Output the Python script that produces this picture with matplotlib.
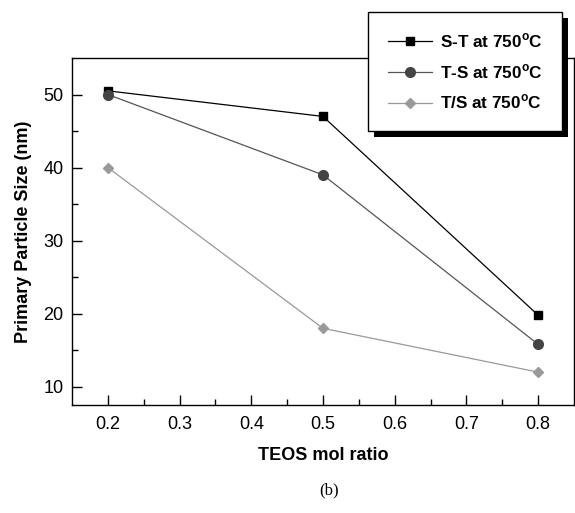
import matplotlib
matplotlib.use("Agg")
import matplotlib.pyplot as plt
from matplotlib.patches import Rectangle

# data
teos_ratio = [0.2, 0.5, 0.8]
st_750 = [50.5, 47.0, 19.8]
ts_750 = [50.0, 39.0, 15.8]
t_s_750 = [40.0, 18.0, 12.0]

series = [
    ("S-T at 750$^\\mathregular{o}$C", st_750, "s", "#000000", "#000000", 6),
    ("T-S at 750$^\\mathregular{o}$C", ts_750, "o", "#444444", "#555555", 7),
    ("T/S at 750$^\\mathregular{o}$C", t_s_750, "D", "#999999", "#999999", 5),
]

plt.rcParams["font.family"] = ["Liberation Sans", "DejaVu Sans"]

fig = plt.figure(figsize=(5.75, 5.13), dpi=100)
ax = fig.add_axes([0.1252, 0.2105, 0.873, 0.6765])

for label, vals, marker, mcol, lcol, ms in series:
    ax.plot(teos_ratio, vals, color=lcol, lw=0.9, marker=marker,
            markersize=ms, markerfacecolor=mcol, markeredgecolor=mcol,
            label=label)

ax.set_xlim(0.15, 0.85)
ax.set_ylim(7.5, 55)
ax.set_xticks([0.2, 0.3, 0.4, 0.5, 0.6, 0.7, 0.8])
ax.set_xticks([0.25, 0.35, 0.45, 0.55, 0.65, 0.75], minor=True)
ax.set_yticks([10, 20, 30, 40, 50])
ax.set_yticks([15, 25, 35, 45], minor=True)
ax.tick_params(which="major", direction="in", length=7, width=1, labelsize=13)
ax.tick_params(which="minor", direction="in", length=4, width=1)
ax.tick_params(axis="x", pad=8)
ax.tick_params(axis="y", pad=6)
for s in ax.spines.values():
    s.set_linewidth(1)

ax.set_xlabel("TEOS mol ratio", fontsize=13, fontweight="bold", labelpad=10)
ax.set_ylabel("Primary Particle Size (nm)", fontsize=13, fontweight="bold",
              labelpad=8)

leg = ax.legend(loc="upper left", bbox_to_anchor=(368 / 575, 1 - 12 / 513),
                bbox_transform=fig.transFigure, frameon=True, fancybox=False,
                handlelength=2.6, prop={"weight": "bold", "size": 12.3},
                labelspacing=0.7, borderpad=1.15, handletextpad=0.45,
                borderaxespad=0)
leg.get_frame().set_edgecolor("black")
leg.get_frame().set_linewidth(1.0)
leg.get_frame().set_alpha(1)

fig.canvas.draw()
bb = leg.get_window_extent()
shadow = Rectangle((bb.x0 + 6, bb.y0 - 6), bb.width, bb.height,
                   transform=None, facecolor="black", edgecolor="none",
                   clip_on=False, zorder=4.9)
ax.add_artist(shadow)

fig.text(0.572, 1 - 490 / 513, "(b)", ha="center", va="center",
         fontsize=12, family=["Liberation Serif", "DejaVu Serif"])

fig.savefig("out.png", dpi=100)
